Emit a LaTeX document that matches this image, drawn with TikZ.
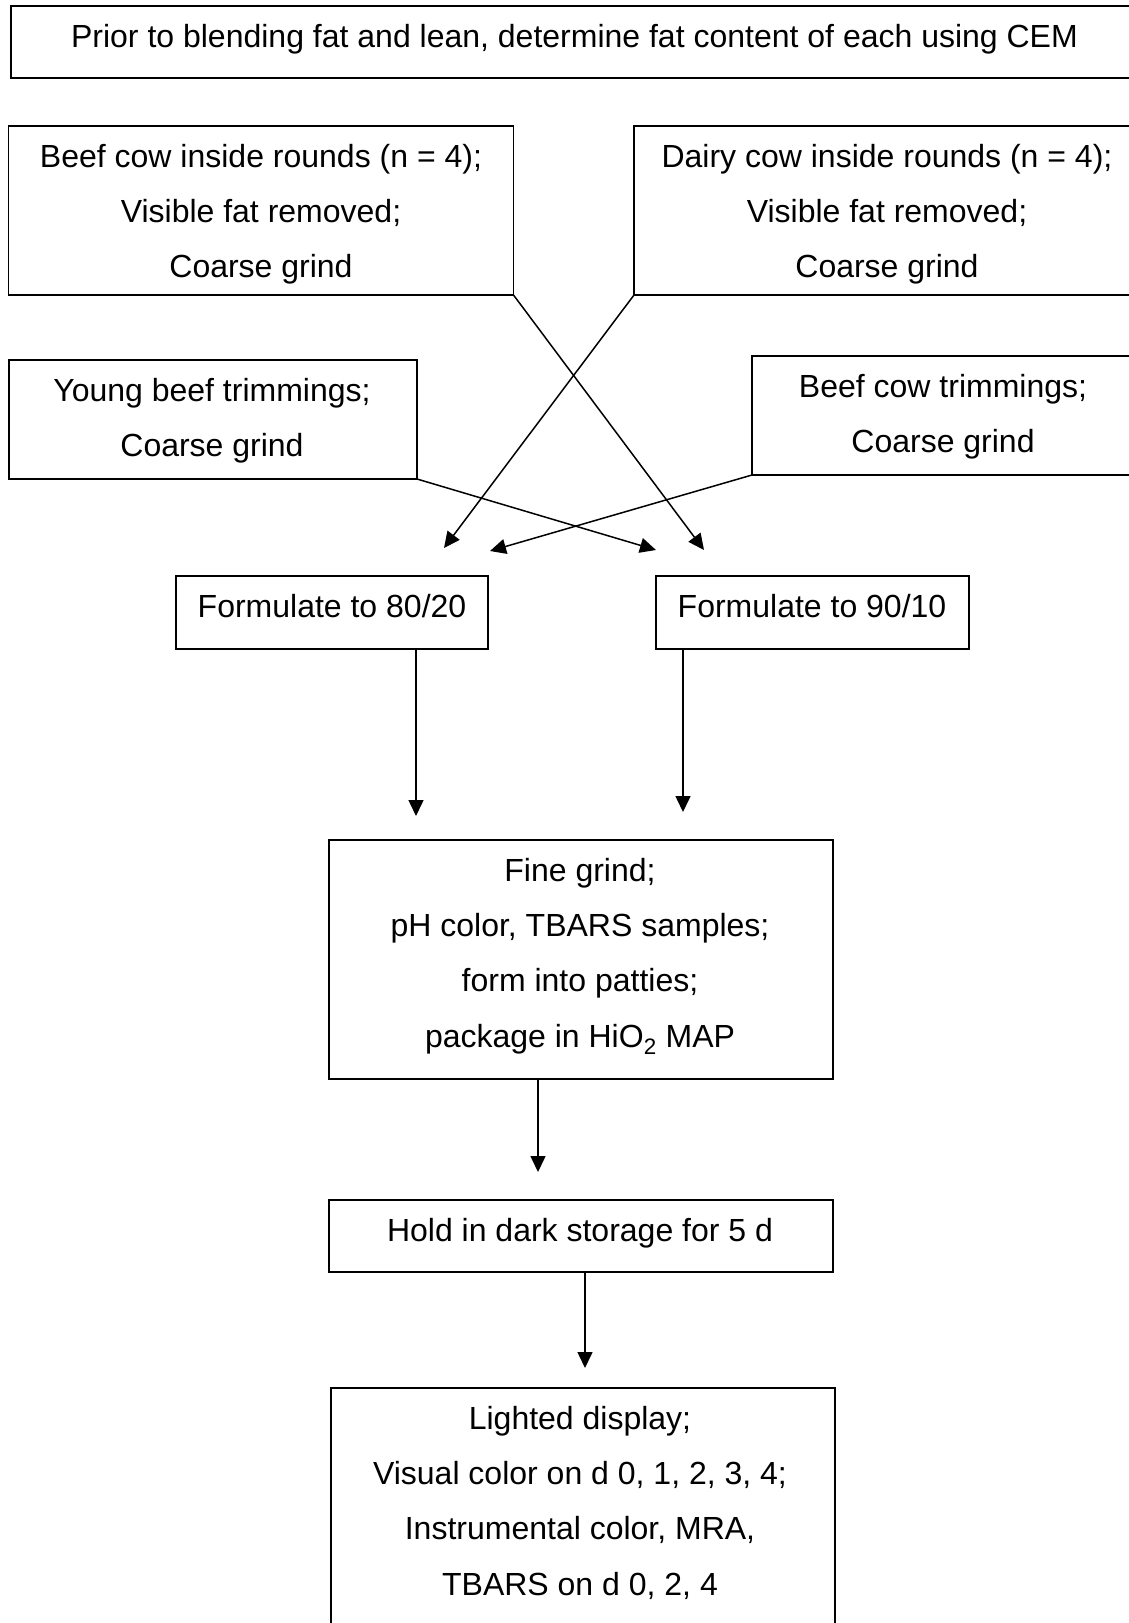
\documentclass[tikz,border=0pt]{standalone}
\usepackage{fontspec}
\setmainfont{Liberation Sans}
\usetikzlibrary{arrows.meta}
\begin{document}
\begin{tikzpicture}[x=1pt,y=-1pt,
  box/.style={draw, line width=1.9pt, inner sep=0pt, outer sep=0pt},
  txt/.style={anchor=north, inner sep=0pt, align=center,
              font=\fontsize{32}{55.2}\selectfont},
  flow/.style={line width=1.5pt, -{Triangle[length=16pt,width=15pt]}}]
\clip (0,0) rectangle (1129,1623);
\fill[white] (0,0) rectangle (1129,1623);

% boxes
\node[box, minimum width=1129pt, minimum height=71.6pt] (top) at (575.5,41.8) {};
\node[box, minimum width=505pt, minimum height=169pt] (A) at (261,210.5) {};
\node[box, minimum width=506pt, minimum height=169pt] (B) at (887,210.5) {};
\node[box, minimum width=408.4pt, minimum height=119pt] (C) at (212.8,419.5) {};
\node[box, minimum width=382pt, minimum height=119pt] (D) at (943,415.5) {};
\node[box, minimum width=312pt, minimum height=73pt] (F80) at (332,612.5) {};
\node[box, minimum width=312.6pt, minimum height=73pt] (F90) at (812.3,612.5) {};
\node[box, minimum width=504pt, minimum height=239pt] (fine) at (581,959.5) {};
\node[box, minimum width=504pt, minimum height=72pt] (hold) at (581,1236) {};
\node[box, minimum width=504pt, minimum height=272pt] (light) at (583,1524) {};

% texts
\node[txt] (top-t) at (574.5,24) {Prior to blending fat and lean, determine fat content of each using CEM};
\node[txt] (A-t) at (261,144) {Beef cow inside rounds (n = 4);\\Visible fat removed;\\Coarse grind};
\node[txt] (B-t) at (887,144) {Dairy cow inside rounds (n = 4);\\Visible fat removed;\\Coarse grind};
\node[txt] (C-t) at (212,378) {Young beef trimmings;\\Coarse grind};
\node[txt] (D-t) at (943,374) {Beef cow trimmings;\\Coarse grind};
\node[txt] (F80-t) at (332,594) {Formulate to 80/20};
\node[txt] (F90-t) at (812,594) {Formulate to 90/10};
\node[txt] (fine-t) at (580,858) {Fine grind;\\pH color, TBARS samples;\\form into patties;\\package in HiO\textsubscript{2} MAP};
\node[txt] (hold-t) at (580,1218) {Hold in dark storage for 5 d};
\node[txt] (light-t) at (580,1406) {Lighted display;\\Visual color on d 0, 1, 2, 3, 4;\\Instrumental color, MRA,\\TBARS on d 0, 2, 4};

% free arrow ends
\coordinate (t1) at (444,548);
\coordinate (t2) at (704,550);
\coordinate (t3) at (656,550);
\coordinate (t4) at (490,551);
\coordinate (d80) at (416,816);
\coordinate (d90) at (683,812);
\coordinate (dH) at (538,1172);
\coordinate (dL) at (585,1368);

% crossing connectors
\draw[flow] (B.south west) -- (t1);
\draw[flow] (A.south east) -- (t2);
\draw[flow] (C.south east) -- (t3);
\draw[flow] (D.south west) -- (t4);

% vertical connectors
\draw[flow] (F80.south -| d80) -- (d80);
\draw[flow] (F90.south -| d90) -- (d90);
\draw[flow] (fine.south -| dH) -- (dH);
\draw[flow] (hold.south -| dL) -- (dL);
\end{tikzpicture}
\end{document}
